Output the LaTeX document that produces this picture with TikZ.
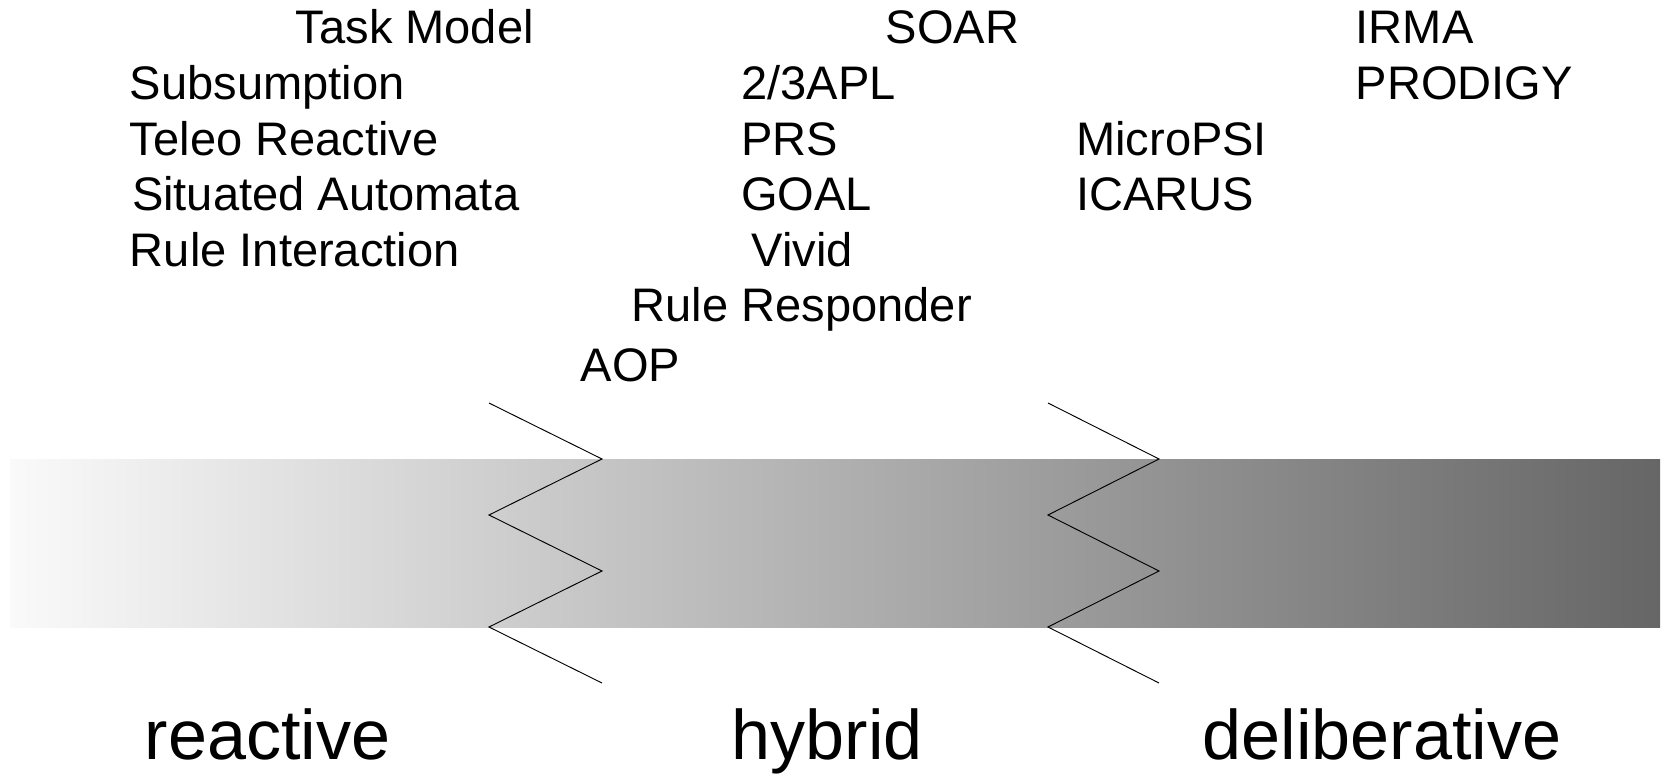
\documentclass[tikz,border=0pt]{standalone}
\usepackage{fontspec}
\setmainfont{Liberation Sans}
\begin{document}
\begin{tikzpicture}[x=0.75pt,y=-0.75pt,
  item/.style={anchor=base west,inner sep=0pt,font=\fontsize{35.3}{40}\selectfont},
  band/.style={anchor=base west,inner sep=0pt,font=\fontsize{52.6}{60}\selectfont},
  cut/.style={draw=black,line width=0.7pt,line join=miter}]
\useasboundingbox (0,0) rectangle (1667,774);

% spectrum bar, light (reactive) to dark (deliberative)
\shade[left color=black!2,right color=black!60] (10,459) rectangle (1660,627);

% zigzag break marks
\foreach \n/\l/\r in {a/489/602,b/1048/1159}{
  \coordinate (\n0) at (\l,403);
  \coordinate (\n1) at (\r,459);
  \coordinate (\n2) at (\l,515);
  \coordinate (\n3) at (\r,571);
  \coordinate (\n4) at (\l,627);
  \coordinate (\n5) at (\r,683);
  \draw[cut] (\n0) -- (\n1) -- (\n2) -- (\n3) -- (\n4) -- (\n5);
}

% reactive architectures
\node[item] (taskmodel) at (295.5,44) {Task Model};
\node[item] (subsumption) at (129.7,99.5) {Subsumption};
\node[item] (teleo) at (129.7,155) {Teleo Reactive};
\node[item] (situated) at (131.8,210.5) {Situated Automata};
\node[item] (ruleint) at (129.7,266) {Rule Interaction};

% hybrid architectures
\node[item] (soar) at (885.6,44) {SOAR};
\node[item] (apl) at (741,99.5) {2/3APL};
\node[item] (prs) at (741,155) {PRS};
\node[item] (goal) at (741,210.5) {GOAL};
\node[item] (vivid) at (751.6,266) {Vivid};
\node[item] (responder) at (631.5,321.5) {Rule Responder};
\node[item] (aop) at (580.5,381) {AOP};

% deliberative architectures
\node[item] (irma) at (1355.5,44) {IRMA};
\node[item] (prodigy) at (1355.5,99.5) {PRODIGY};
\node[item] (micropsi) at (1075.9,155) {MicroPSI};
\node[item] (icarus) at (1075.9,210.5) {ICARUS};

% category labels
\node[band] (reactive) at (144.6,759) {reactive};
\node[band] (hybrid) at (731.4,759) {hybrid};
\node[band] (deliberative) at (1202.4,759) {deliberative};
\end{tikzpicture}
\end{document}
